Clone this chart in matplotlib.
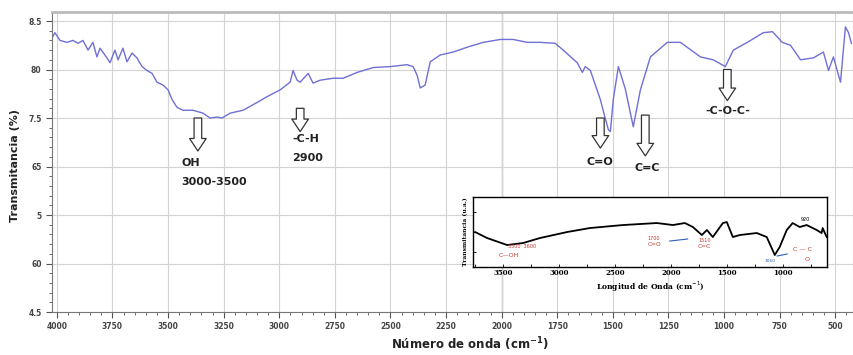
import matplotlib
matplotlib.use("Agg")
import matplotlib.pyplot as plt
from matplotlib.ticker import MultipleLocator, FixedLocator

# ---------------- data ----------------
wavenumber = [4018, 4009, 3986, 3955, 3928, 3905, 3883, 3860, 3838, 3820, 3806, 3775,
              3761, 3739, 3725, 3703, 3685, 3662, 3640, 3617, 3595, 3572, 3550, 3523,
              3500, 3482, 3460, 3433, 3388, 3343, 3311, 3280, 3257, 3221, 3163, 3100,
              3055, 2996, 2951, 2938, 2920, 2906, 2870, 2848, 2816, 2758, 2713, 2650,
              2578, 2501, 2425, 2398, 2380, 2366, 2344, 2321, 2276, 2218, 2155, 2083,
              2006, 1948, 1885, 1826, 1759, 1723, 1660, 1637, 1624, 1601, 1556, 1538,
              1520, 1511, 1498, 1475, 1444, 1408, 1376, 1331, 1255, 1196, 1106, 1048,
              994, 958, 895, 823, 782, 738, 701, 656, 598, 553, 530, 508, 485, 476,
              454, 440, 427]
transmittance = [83.4, 83.8, 83.0, 82.8, 83.0, 82.7, 83.0, 82.0, 82.8, 81.3, 82.2, 81.2,
                 80.7, 82.0, 81.0, 82.2, 80.8, 81.7, 81.2, 80.3, 79.9, 79.6, 78.7, 78.4,
                 77.9, 76.9, 76.1, 75.8, 75.8, 75.5, 75.0, 75.1, 75.0, 75.5, 75.8, 76.6,
                 77.2, 77.9, 78.7, 79.9, 78.9, 78.7, 79.6, 78.6, 78.9, 79.1, 79.1, 79.7,
                 80.2, 80.3, 80.5, 80.3, 79.4, 78.1, 78.4, 80.8, 81.5, 81.8, 82.3, 82.8,
                 83.1, 83.1, 82.8, 82.8, 82.7, 82.0, 80.7, 79.7, 80.3, 79.9, 76.9, 75.3,
                 73.8, 73.6, 76.9, 80.3, 78.0, 74.1, 77.9, 81.3, 82.8, 82.8, 81.3, 81.0,
                 80.3, 82.0, 82.8, 83.8, 83.9, 82.8, 82.5, 81.0, 81.2, 81.8, 79.9, 81.3,
                 79.4, 78.7, 84.4, 83.8, 82.7]

x_ticks = [4000, 3750, 3500, 3250, 3000, 2750, 2500, 2250, 2000, 1750, 1500, 1250, 1000, 750, 500]
x_tick_labels = ["4000", "3750", "3500", "3250", "3000", "2750", "2500", "2250", "2000",
                 "1750", "1500", "1250", "1000", "750", "500"]
y_ticks = [55, 60, 65, 70, 75, 80, 85]
y_tick_labels = ["4.5", "60", "5", "65", "7.5", "80", "8.5"]

# inset spectrum
inset_wavenumber = [3750, 3643, 3464, 3321, 3170, 2928, 2723, 2428, 2125, 1982, 1875, 1803,
                    1723, 1678, 1625, 1535, 1500, 1446, 1384, 1232, 1143, 1071, 1027, 964,
                    911, 848, 786, 696, 652, 643, 607]
inset_signal = [35, 29, 22, 24, 29, 35, 39, 42, 44, 42, 44, 40, 32, 37, 30, 44, 45, 30, 32,
                34, 30, 12, 20, 37, 44, 40, 42, 37, 34, 39, 30]
inset_ticks = [3500, 3000, 2500, 2000, 1500, 1000]

# main annotations: (label lines, arrow x, arrow tail y, arrow tip y, text x, text y, ha)
annotations = [
    (["OH", "3000-3500"], 3366, 75.0, 71.6, 3440, 70.9, "left"),
    (["-C-H", "2900"], 2906, 76.0, 73.6, 2940, 73.4, "left"),
    (["C=O"], 1556, 75.0, 71.9, 1556, 71.0, "center"),
    (["C=C"], 1354, 75.3, 71.1, 1345, 70.4, "center"),
    (["-C-O-C-"], 985, 80.0, 76.8, 985, 76.2, "center"),
]

# ---------------- figure ----------------
fig = plt.figure(figsize=(8.54, 3.55), dpi=100)
ax = fig.add_axes([0.0609, 0.1211, 0.9379, 0.8451])

ax.plot(wavenumber, transmittance, color="#6f6fd6", lw=1.0)
ax.set_xlim(4022, 420)
ax.set_ylim(55, 85.93)

ax.xaxis.set_major_locator(FixedLocator(x_ticks))
ax.set_xticklabels(x_tick_labels)
ax.xaxis.set_minor_locator(MultipleLocator(50))
ax.yaxis.set_major_locator(FixedLocator(y_ticks))
ax.set_yticklabels(y_tick_labels)
ax.yaxis.set_minor_locator(MultipleLocator(1))

ax.tick_params(axis="both", which="major", labelsize=5.5, labelcolor="#444444",
               length=4, width=0.8, color="#555555")
ax.tick_params(axis="both", which="minor", length=2.5, width=0.6, color="#555555")
for lab in ax.get_xticklabels() + ax.get_yticklabels():
    lab.set_fontweight("bold")

ax.grid(True, which="major", color="#d4d4d4", lw=0.8)
ax.axvline(2000, color="#8a8a8a", lw=0.9, zorder=1)
for side in ["top", "right"]:
    ax.spines[side].set_color("#bbbbbb")
ax.spines["top"].set_linewidth(2.0)
ax.spines["left"].set_color("#777777")
ax.spines["bottom"].set_color("#777777")

fig.text(15 / 854, 1 - 165 / 355, "Transmitancia (%)", fontsize=8, fontweight="bold",
         rotation=90, ha="center", va="center", color="#222222")
fig.text(470 / 854, 1 - 344 / 355, "Número de onda (cm$^{\\mathbf{-1}}$)", fontsize=8.5,
         fontweight="bold", ha="center", va="center", color="#222222")

for lines, axx, y0, y1, tx, ty, ha in annotations:
    ax.annotate("", xy=(axx, y1), xytext=(axx, y0),
                arrowprops=dict(arrowstyle="simple,head_width=1.2,head_length=0.9,tail_width=0.55",
                                fc="white", ec="#333333", lw=0.9, mutation_scale=10,
                                shrinkA=0, shrinkB=0))
    for i, t in enumerate(lines):
        ax.text(tx, ty - i * 2.0, t, fontsize=8, fontweight="bold", ha=ha, va="top",
                color="#222222")

# ---------------- inset ----------------
ins = fig.add_axes([0.554, 0.2479, 0.414, 0.197])
ins.plot(inset_wavenumber, inset_signal, color="black", lw=1.3)
ins.set_xlim(3768, 607)
ins.set_ylim(0, 70)
ins.set_xticks(inset_ticks)
ins.set_xticklabels([str(t) for t in inset_ticks], fontsize=5, fontweight="bold",
                    family="DejaVu Serif")
ins.xaxis.set_minor_locator(MultipleLocator(250))
ins.set_yticks([15, 35, 55])
ins.set_yticklabels([])
ins.tick_params(axis="both", which="both", direction="in", length=2, width=0.6, pad=1.5)
for s in ins.spines.values():
    s.set_linewidth(1.0)
ins.set_xlabel("Longitud de Onda (cm$^{-1}$)", fontsize=5.5, fontweight="bold",
               family="DejaVu Serif", labelpad=1.5)
ins.set_ylabel("Transmitancia (u.a.)", fontsize=4.3, fontweight="bold",
               family="DejaVu Serif", labelpad=2)

ins.text(3330, 19, "3300  3600", fontsize=3.5, color="#c0392b", ha="center")
ins.text(3450, 10, "C—OH", fontsize=4.5, color="#c0392b", ha="center")
ins.text(2150, 27, "1700", fontsize=3.5, color="#c0392b", ha="center")
ins.text(2150, 21, "C=O", fontsize=4.2, color="#c0392b", ha="center")
ins.plot([2010, 1850], [26, 28], color="#2e5fb8", lw=0.8)
ins.text(1700, 25, "1510", fontsize=3.5, color="#c0392b", ha="center")
ins.text(1700, 19.5, "C=C", fontsize=4.2, color="#c0392b", ha="center")
ins.text(1110, 5, "1060", fontsize=3.2, color="#2e5fb8", ha="center")
ins.plot([1050, 960], [11, 13], color="#2e5fb8", lw=0.8)
ins.text(820, 16, "C — C", fontsize=4.5, color="#c0392b", ha="center")
ins.text(780, 6, "O", fontsize=4.5, color="#c0392b", ha="center")
ins.text(800, 46, "920", fontsize=3.5, color="black", ha="center")

fig.savefig("out.png", dpi=100)
